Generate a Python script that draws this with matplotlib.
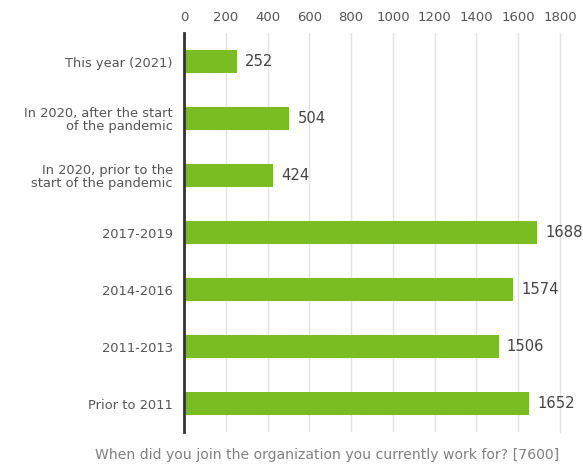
import matplotlib
matplotlib.use("Agg")
import matplotlib.pyplot as plt

categories = [
    "This year (2021)",
    "In 2020, after the start\nof the pandemic",
    "In 2020, prior to the\nstart of the pandemic",
    "2017-2019",
    "2014-2016",
    "2011-2013",
    "Prior to 2011",
]
values = [252, 504, 424, 1688, 1574, 1506, 1652]
ticks = [0, 200, 400, 600, 800, 1000, 1200, 1400, 1600, 1800]
title = "When did you join the organization you currently work for? [7600]"

plt.rcParams["font.family"] = ["DejaVu Sans"]

fig = plt.figure(figsize=(5.83, 4.66), dpi=100)
ax = fig.add_axes([184 / 583, 1 - 432 / 466, (560 - 184) / 583, (432 - 33) / 466])

y = list(range(len(categories)))
ax.barh(y, values, height=0.39, color="#79bd22", zorder=3)
for yi, v in zip(y, values):
    ax.annotate(str(v), xy=(v, yi), xytext=(6, 0), textcoords="offset points",
                va="center", ha="left", fontsize=10.6, color="#444444")

ax.set_xlim(0, 1800)
ax.set_ylim(len(categories) - 0.5, -0.5)
ax.set_yticks(y)
ax.set_yticklabels(categories, fontsize=9.4, color="#555555", linespacing=0.95)
ax.set_xticks(ticks)
ax.set_xticklabels([str(t) for t in ticks], fontsize=9.5, color="#555555")
ax.xaxis.tick_top()
ax.tick_params(axis="y", length=0, pad=8)
ax.tick_params(axis="x", length=0, pad=6.5)
ax.grid(axis="x", color="#e3e3e3", linewidth=1, zorder=0)
ax.grid(axis="y", visible=False)
ax.xaxis.get_gridlines()[-1].set_clip_on(False)
for s in ["top", "right", "bottom"]:
    ax.spines[s].set_visible(False)
ax.spines["left"].set_color("#333333")
ax.spines["left"].set_linewidth(2)
ax.spines["left"].set_zorder(4)

fig.text(327 / 583, 1 - 455 / 466, title, ha="center", va="center", fontsize=10.1, color="#808080")

fig.savefig("out.png", dpi=100)
